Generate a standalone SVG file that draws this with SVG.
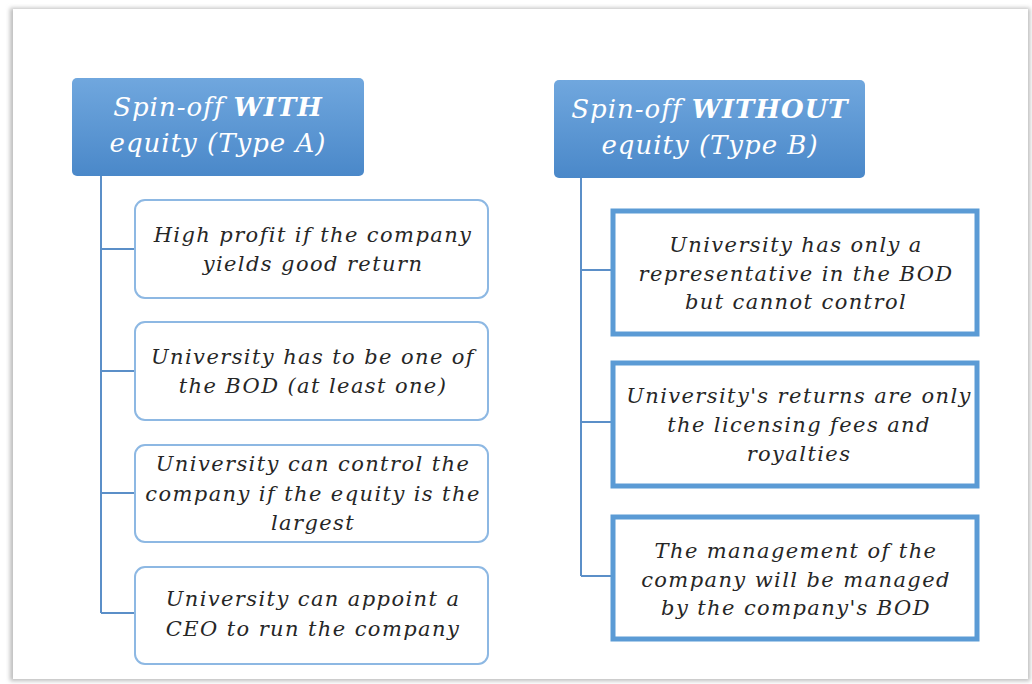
<svg xmlns="http://www.w3.org/2000/svg" width="1032" height="684" viewBox="0 0 1032 684">
<defs>
<linearGradient id="hdr" x1="0" y1="0" x2="0" y2="1">
<stop offset="0" stop-color="#70a7de"/>
<stop offset="1" stop-color="#4a88c9"/>
</linearGradient>
<filter id="sh" x="-5%" y="-5%" width="110%" height="110%">
<feGaussianBlur stdDeviation="2"/>
</filter>
</defs>
<style>
.t{font-family:"DejaVu Serif","Liberation Serif",serif;font-style:italic;font-size:21px;letter-spacing:1.4px;fill:#262626;text-anchor:middle}
.h{font-family:"DejaVu Serif","Liberation Serif",serif;font-style:italic;font-size:26px;letter-spacing:1px;fill:#ffffff;text-anchor:middle}
.b{font-weight:bold}
.la{fill:#ffffff;stroke:#8db8e3;stroke-width:2}
.rb{fill:#ffffff;stroke:#5b9bd5;stroke-width:5}
.c{fill:none;stroke:#5b8fc8;stroke-width:2}
</style>
<rect width="1032" height="684" fill="#ffffff"/>
<rect x="10" y="8" width="1020" height="673" fill="#bdbdbd" filter="url(#sh)"/>
<rect x="13" y="9" width="1015" height="670" fill="#ffffff"/>
<g id="connectors">
<path class="c" d="M101 176 V613 M101 249 H135 M101 371 H135 M101 493 H135 M101 613 H135"/>
<path class="c" d="M581 178 V576 M581 270 H612 M581 422 H612 M581 576 H612"/>
</g>
<g id="headerA">
<rect x="72" y="78" width="292" height="98" rx="5" fill="url(#hdr)"/>
<text class="h" x="218" y="116">Spin-off  <tspan class="b">WITH</tspan></text>
<text class="h" x="218" y="152">equity (Type A)</text>
</g>
<g id="headerB">
<rect x="554" y="80" width="311" height="98" rx="5" fill="url(#hdr)"/>
<text class="h" x="710" y="118">Spin-off <tspan class="b">WITHOUT</tspan></text>
<text class="h" x="710" y="154">equity (Type B)</text>
</g>
<g id="a1">
<rect class="la" x="135" y="200" width="353" height="98" rx="10"/>
<text class="t" x="313" y="242">High profit if the company</text>
<text class="t" x="313" y="271">yields good return</text>
</g>
<g id="a2">
<rect class="la" x="135" y="322" width="353" height="98" rx="10"/>
<text class="t" x="313" y="364">University has to be one of</text>
<text class="t" x="313" y="393">the BOD (at least one)</text>
</g>
<g id="a3">
<rect class="la" x="135" y="445" width="353" height="97" rx="10"/>
<text class="t" x="313" y="471">University can control the</text>
<text class="t" x="313" y="501">company if the equity is the</text>
<text class="t" x="313" y="530">largest</text>
</g>
<g id="a4">
<rect class="la" x="135" y="567" width="353" height="97" rx="10"/>
<text class="t" x="313" y="606">University can appoint a</text>
<text class="t" x="313" y="636">CEO to run the company</text>
</g>
<g id="b1">
<rect class="rb" x="613" y="211" width="364" height="123"/>
<text class="t" x="796" y="252">University has only a</text>
<text class="t" x="796" y="281">representative in the BOD</text>
<text class="t" x="796" y="309">but cannot control</text>
</g>
<g id="b2">
<rect class="rb" x="613" y="363" width="364" height="123"/>
<text class="t" x="799" y="403">University's returns are only</text>
<text class="t" x="799" y="432">the licensing fees and</text>
<text class="t" x="799" y="461">royalties</text>
</g>
<g id="b3">
<rect class="rb" x="613" y="517" width="364" height="122"/>
<text class="t" x="796" y="558">The management of the</text>
<text class="t" x="796" y="587">company will be managed</text>
<text class="t" x="796" y="615">by the company's BOD</text>
</g>
</svg>
